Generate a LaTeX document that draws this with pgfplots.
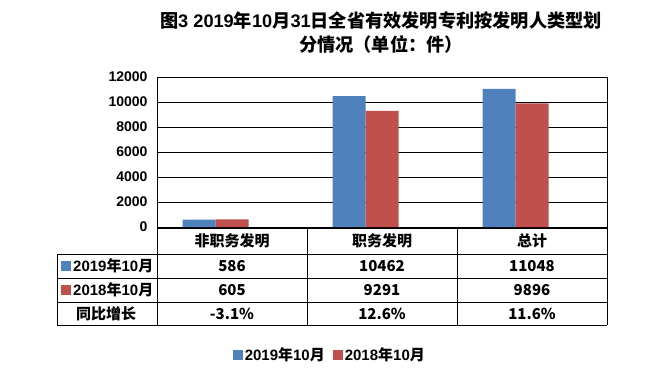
\documentclass[border=0pt]{standalone}
\usepackage{fontspec}
\setmainfont{Noto Sans CJK SC}
\newfontfamily\lat{Liberation Sans}
\usepackage{pgfplots}
\pgfplotsset{compat=1.18}
\definecolor{cblue}{HTML}{4F81BD}
\definecolor{cred}{HTML}{C0504D}
\begin{document}
\begin{tikzpicture}[x=1pt,y=1pt]
\path[use as bounding box] (0,0) rectangle (655,381);
% title
\node[font=\bfseries\fontsize{18.2}{24}\selectfont, align=center] at (381,348)
  {图{\lat 3 2019}年{\lat 10}月{\lat 31}日全省有效发明专利按发明人类型划\\分情况（单位：件）};
\begin{axis}[
  at={(157pt,154pt)}, anchor=south west,
  scale only axis, width=450pt, height=150pt,
  xmin=0, xmax=3, ymin=0, ymax=12000,
  xtick=\empty,
  ytick={0,2000,...,12000},
  scaled y ticks=false,
  yticklabel={\pgfmathprintnumber[fixed,precision=0,1000 sep={}]{\tick}},
  ymajorgrids, grid style={black, line width=0.9pt},
  axis line style={black, line width=0.9pt},
  major tick length=0pt,
  yticklabel style={font=\lat\bfseries\fontsize{14}{14}\selectfont, xshift=-6pt},
  /pgf/number format/assume math mode=true,
  ybar, bar width=0.22,
  legend style={at={(axis description cs:0.384,-0.853)}, anchor=center, draw=none,
    legend columns=2, font=\bfseries\fontsize{15}{15}\selectfont,
    /tikz/every even column/.append style={column sep=6pt}},
  legend image code/.code={\fill[#1] (0pt,-5pt) rectangle (10pt,5pt);},
]
\addplot[fill=cblue, draw=none, bar shift=-0.22] coordinates {(0.5,586) (1.5,10462) (2.5,11048)};
\addlegendentry{{\lat 2019}年{\lat 10}月}
\addplot[fill=cred, draw=none, bar shift=0] coordinates {(0.5,605) (1.5,9291) (2.5,9896)};
\addlegendentry{{\lat 2018}年{\lat 10}月}
\end{axis}
% table grid
\begin{scope}[line width=0.9pt]
\draw (157,153) -- (607,153);
\foreach \y in {127,103,79,56} \draw (57,\y) -- (607,\y);
\draw (57,127) -- (57,56);
\foreach \x in {157,307,457,607} \draw (\x,153) -- (\x,56);
\end{scope}
\begin{scope}[every node/.style={font=\bfseries\fontsize{15}{15}\selectfont, inner sep=0pt}]
\node at (232,140) {非职务发明};
\node at (382,140) {职务发明};
\node at (532,140) {总计};
\fill[cblue] (61,110) rectangle (71,120);
\node[anchor=west] at (73,115) {{\lat 2019}年{\lat 10}月};
\fill[cred] (61,86) rectangle (71,96);
\node[anchor=west] at (73,91) {{\lat 2018}年{\lat 10}月};
\node at (106,67.5) {同比增长};
\node at (232,115) {586};
\node at (382,115) {10462};
\node at (532,115) {11048};
\node at (232,91) {605};
\node at (382,91) {9291};
\node at (532,91) {9896};
\node at (232,67.5) {-3.1\%};
\node at (382,67.5) {12.6\%};
\node at (532,67.5) {11.6\%};
\end{scope}
\end{tikzpicture}
\end{document}
